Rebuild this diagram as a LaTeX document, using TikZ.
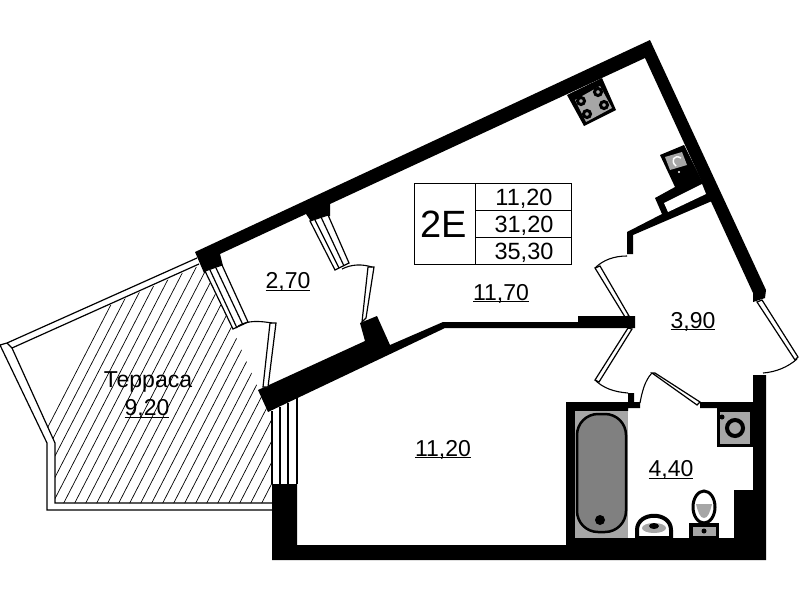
\documentclass[tikz,border=0pt]{standalone}
\usepackage{fontspec}
\setmainfont{Liberation Sans}
\usetikzlibrary{calc}
\newcommand{\arealabel}[1]{\underline{\smash{#1}}}
\tikzset{
    wall/.style={fill=black, draw=none},
    plainline/.style={draw=black, line width=1.2pt},
    leaf/.style={draw=black, fill=white, line width=1.2pt},
    swing/.style={draw=black, line width=1.1pt},
    fixture/.style={fill=black!35, draw=none},
    area/.style={font=\fontsize{23}{25}\selectfont, inner sep=0pt, anchor=base},
    cell/.style={font=\fontsize{23.5}{25}\selectfont, inner sep=0pt, anchor=base}
}
\begin{document}
\begin{tikzpicture}[x=1pt, y=-1pt]
    \useasboundingbox (0,0) rectangle (799,600);
    % Terrace hatching
    \begin{scope}
        \clip (12,349) -- (201,265) -- (232,328) -- (258,388) -- (268,412) -- (272,412) -- (272,503) -- (55,503) -- (55,443) -- cycle;
        \foreach \hx in {0,11,...,600} {
            \draw [line width=0.7pt] (\hx,520) -- ++(170,-330);
        }
    \end{scope}
    % Terrace railing
    \draw [plainline] (197,258) -- (7,343) -- (0,345) -- (47,443) -- (47,510) -- (272,510);
    \draw [plainline] (199,264) -- (12,348) -- (55,443) -- (55,503) -- (272,503);
    \draw [plainline] (7,343) -- (12,348);
    % Outer walls and kitchen wall
    \fill [wall] (195,252) -- (650,40) -- (766,290) -- (765,298) -- (753,302) -- (753,293) -- (645,58) -- (330,204) -- (330,216) -- (312,223) -- (308,217) -- (306,214) -- (220,254) -- (223,266) -- (204,273) -- cycle;
    % Lower diagonal wall
    \fill [wall] (258,390) -- (365,341) -- (360,323) -- (377,316) -- (390,345) -- (443,322) -- (578,322) -- (578,316) -- (635,316) -- (635,328) -- (445,328) -- (268,412) -- cycle;
    % Niche and partition
    \fill [wall] (684,145) -- (660,155) -- (675,187) -- (655,198) -- (662,214) -- (627,232) -- (627,254) -- (633,254) -- (633,235) -- (712,201) -- cycle;
    \fill [white] (664,203) -- (702,184) -- (706,194) -- (668,212) -- cycle;
    % Bathroom walls
    \fill [wall] (272,484) -- (297,484) -- (297,545) -- (566,545) -- (566,402) -- (628,402) -- (628,393) -- (634,393) -- (634,402) -- (640,402) -- (640,408) -- (628,408) -- (628,411) -- (575,411) -- (575,538) -- (734,538) -- (734,490) -- (753,490) -- (753,408) -- (700,408) -- (700,402) -- (753,402) -- (753,375) -- (766,375) -- (766,560) -- (272,560) -- cycle;
    % Windows
    \draw [leaf] (205,271) -- (222,265) -- (248,322) -- (233,329) -- cycle;
    \draw [plainline] (210,270) -- (237,328);
    \draw [plainline] (216,268) -- (243,325);
    \draw [leaf] (310,221) -- (328,215) -- (349,263) -- (335,270) -- cycle;
    \draw [plainline] (315,220) -- (339,268);
    \draw [plainline] (321,217) -- (344,266);
    \draw [plainline] (272,411) -- (272,484);
    \draw [plainline] (280,407) -- (280,484);
    \draw [plainline] (288,403) -- (288,484);
    \draw [plainline] (297,398) -- (297,484);
    % Doors
    \draw [leaf] (270,323) -- (276,323) -- (268,387) -- (263,387) -- cycle;
    \draw [swing] (238,326) .. controls (248,320) and (260,321) .. (272,323);
    \draw [leaf] (368,267) -- (374,267) -- (366,318) -- (362,322) -- cycle;
    \draw [swing] (342,269) .. controls (352,264) and (362,264) .. (372,267);
    \draw [leaf] (595,268) -- (600,266) -- (629,316) -- (625,317) -- cycle;
    \draw [swing] (595,268) .. controls (603,260) and (614,256) .. (627,256);
    \draw [leaf] (595,380) -- (628,328) -- (632,329) -- (599,382) -- cycle;
    \draw [swing] (595,380) .. controls (603,388) and (614,392) .. (628,393);
    \draw [leaf] (652,373) -- (655,373) -- (700,402) -- (697,405) -- cycle;
    \draw [swing] (652,373) .. controls (645,380) and (642,392) .. (640,403);
    \draw [leaf] (757,302) -- (762,300) -- (798,357) -- (795,360) -- cycle;
    \draw [swing] (797,359) .. controls (788,367) and (776,372) .. (763,373);
    % Stove
    \fill [wall] (567,95) -- (602,78) -- (616,110) -- (584,126) -- cycle;
    \fill [fixture] (575,100) -- (600,86) -- (612,108) -- (586,122) -- cycle;
    \foreach \bx/\by in {581/101, 598/92, 604/105, 587/114} {
        \draw [line width=3pt, fill=black!35] (\bx,\by) circle (3.5);
    }
    % Boiler
    \fill [fixture] (665,157) -- (682,152) -- (687,165) -- (670,170) -- cycle;
    \draw [white, line width=1.5pt] (681,158) .. controls (674,154) and (670,161) .. (676,166);
    \fill [white] (679,172) circle (1.2);
    % Bath
    \fill [fixture] (575,411) rectangle (628,538);
    \draw [fill=black!50, line width=2.5pt, rounded corners=21pt] (577,414) rectangle (626,532);
    \fill [black] (600,520) circle (5);
    % Washing machine
    \fill [wall] (717,408) rectangle (753,447);
    \fill [fixture] (720,412) rectangle (750,444);
    \draw [line width=4pt, fill=black!35] (735,428) circle (8);
    \fill [black] (722,417) circle (2.5);
    % Sink
    \draw [line width=4pt, fill=white] (637,538) -- (637,530) .. controls (637,511) and (671,511) .. (671,530) -- (671,538) -- cycle;
    \fill [fixture] (654,528) ellipse (12 and 5);
    \fill [black] (654,526) ellipse (5 and 3);
    % Toilet
    \draw [line width=3pt, fill=white] (704,507) ellipse (11 and 16);
    \fill [fixture] (696,504) .. controls (698,512) and (700,518) .. (704,518) .. controls (708,518) and (710,512) .. (712,504) -- cycle;
    \fill [wall] (689,523) rectangle (719,538);
    \fill [fixture] (693,527) rectangle (716,536);
    \fill [black] (704,531) circle (2.5);
    % Table
    \draw [line width=1pt] (414,183) rectangle (571,264);
    \draw [line width=1pt] (475,183) -- (475,264);
    \draw [line width=1pt] (475,210) -- (571,210);
    \draw [line width=1pt] (475,237) -- (571,237);
    \node (plantype) at (444,224) [font=\fontsize{38}{40}\selectfont, inner sep=0pt] {2E};
    \node (livingarea) at (524,205.5) [cell] {11,20};
    \node (totalarea) at (524,232.5) [cell] {31,20};
    \node (fullarea) at (524,259.5) [cell] {35,30};
    % Room labels
    \node (hall) at (288,288.5) [area] {\arealabel{2,70}};
    \node (kitchen) at (501,300) [area] {\arealabel{11,70}};
    \node (corridor) at (693,328) [area] {\arealabel{3,90}};
    \node (bedroom) at (443,456) [area] {\arealabel{11,20}};
    \node (bathroom) at (671,476.5) [area] {\arealabel{4,40}};
    \node (terrace) at (148,387) [area] {Терраса};
    \node (terracearea) at (147,415.5) [area] {\arealabel{9,20}};
\end{tikzpicture}
\end{document}
